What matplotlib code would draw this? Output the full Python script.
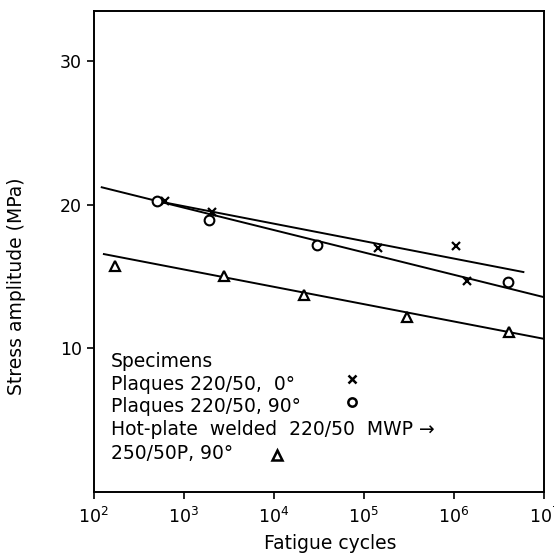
import numpy as np
import matplotlib
matplotlib.use("Agg")
import matplotlib.pyplot as plt
from matplotlib.ticker import LogLocator, NullLocator

# data (cycles, MPa)
cross_n = [620, 2050, 1.45e5, 1.05e6, 1.4e6]
cross_s = [20.25, 19.5, 17.0, 17.1, 14.7]
circle_n = [510, 1900, 3.0e4, 4.0e6]
circle_s = [20.25, 18.9, 17.2, 14.6]
tri_n = [172, 2800, 2.15e4, 3.0e5, 4.1e6]
tri_s = [15.7, 15.0, 13.7, 12.2, 11.1]

# fitted lines (end points)
fit_all_n = [123, 1e7]
fit_all_s = [21.2, 13.55]
fit_0_n = [550, 5.9e6]
fit_0_s = [20.2, 15.3]
fit_weld_n = [130, 1e7]
fit_weld_s = [16.55, 10.65]

legend_lines = ["Specimens", "Plaques 220/50,  0\u00b0", "Plaques 220/50, 90\u00b0",
                "Hot-plate  welded  220/50  MWP \u2192", "250/50P, 90\u00b0"]

plt.rcParams["font.family"] = "DejaVu Sans"
fig = plt.figure(figsize=(5.54, 5.57), dpi=100)
ax = fig.add_axes([0.169, 0.117, 0.813, 0.864])

lw = 1.4
ax.plot(fit_all_n, fit_all_s, color="black", lw=lw)
ax.plot(fit_0_n, fit_0_s, color="black", lw=lw)
ax.plot(fit_weld_n, fit_weld_s, color="black", lw=lw)

ax.plot(cross_n, cross_s, "x", color="black", ms=6, mew=1.6)
ax.plot(circle_n, circle_s, "o", mfc="white", mec="black", ms=7, mew=1.5)
ax.plot(tri_n, tri_s, "^", mfc="white", mec="black", ms=7, mew=1.6)

ax.set_xscale("log")
ax.set_xlim(1e2, 1e7)
ax.set_ylim(0, 33.5)
ax.xaxis.set_major_locator(LogLocator(base=10, numticks=10))
ax.xaxis.set_minor_locator(NullLocator())
ax.set_yticks([10, 20, 30])

ax.tick_params(axis="both", direction="out", length=5, width=1.2, labelsize=12.5)
ax.tick_params(axis="x", pad=6)
for sp in ax.spines.values():
    sp.set_linewidth(1.4)

ax.set_xlabel("Fatigue cycles", fontsize=13.5)
ax.set_ylabel("Stress amplitude (MPa)", fontsize=13.5)
ax.xaxis.set_label_coords(0.525, -0.087)
ax.yaxis.set_label_coords(-0.15, 0.428)

# legend block written inside the axes
ys = [0.270, 0.223, 0.178, 0.130, 0.079]
for txt, yy in zip(legend_lines, ys):
    ax.text(0.039, yy, txt, transform=ax.transAxes, fontsize=13.5,
            va="center", ha="left")
ax.plot([0.573], [0.235], "x", transform=ax.transAxes, color="black", ms=5.5, mew=1.8)
ax.plot([0.573], [0.187], "o", transform=ax.transAxes, mfc="white", mec="black", ms=6, mew=1.8)
ax.plot([0.408], [0.076], "^", transform=ax.transAxes, mfc="white", mec="black", ms=7, mew=1.8)

fig.savefig("out.png", dpi=100)
